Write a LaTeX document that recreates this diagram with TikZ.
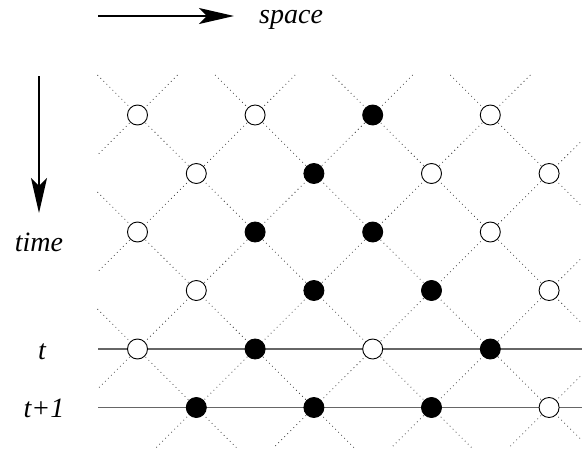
\documentclass[tikz,border=0pt]{standalone}
\usepackage{fontspec}
\setmainfont{Liberation Serif}
\usetikzlibrary{arrows.meta,calc}
\begin{document}
\begin{tikzpicture}[x=1pt,y=-1pt,
  grid/.style={line width=0.75pt,dash pattern=on 0.75pt off 3.5pt,black!85},
  hline/.style={line width=1.1pt,black!60},
  wn/.style={circle,draw=black,fill=white,line width=0.9pt,minimum size=20pt,inner sep=0pt},
  bn/.style={circle,draw=black,fill=black,line width=0.9pt,minimum size=20pt,inner sep=0pt},
  lab/.style={font=\fontsize{28}{32}\selectfont\itshape},
  axis/.style={line width=1.6pt,-{Stealth[length=35pt,width=16pt,inset=8pt]}}]
\useasboundingbox (0,0) rectangle (582,453);
\clip (0,0) rectangle (582,453);
% lattice positions
\foreach \i/\j/\c in {0/0/wn,2/0/wn,4/0/bn,6/0/wn,
                      1/1/wn,3/1/bn,5/1/wn,7/1/wn,
                      0/2/wn,2/2/bn,4/2/bn,6/2/wn,
                      1/3/wn,3/3/bn,5/3/bn,7/3/wn,
                      0/4/wn,2/4/bn,4/4/wn,6/4/bn,
                      1/5/bn,3/5/bn,5/5/bn,7/5/wn}
  {\coordinate (p\i\j) at ({137.5+58.8*\i},{115+58.5*\j});}
% dotted diagonals (down-right)
\foreach \a/\b in {p04/p15,p02/p35,p00/p55,p20/p75,p40/p73,p60/p71}
  {\draw[grid] ($(\a)+(-40,-40)$) -- ($(\b)+(40,40)$);}
% dotted diagonals (down-left)
\foreach \a/\b in {p00/p00,p20/p02,p40/p04,p60/p15,p71/p35,p73/p55,p75/p75}
  {\draw[grid] ($(\a)+(40,-40)$) -- ($(\b)+(-40,40)$);}
% horizontal lines
\coordinate (hl5) at (98,349);   \coordinate (hr5) at (582,349);
\coordinate (hl6) at (98,407.5); \coordinate (hr6) at (582,407.5);
\draw[hline] (hl5) -- (hr5);
\draw[hline] (hl6) -- (hr6);
% nodes
\foreach \i/\j/\c in {0/0/wn,2/0/wn,4/0/bn,6/0/wn,
                      1/1/wn,3/1/bn,5/1/wn,7/1/wn,
                      0/2/wn,2/2/bn,4/2/bn,6/2/wn,
                      1/3/wn,3/3/bn,5/3/bn,7/3/wn,
                      0/4/wn,2/4/bn,4/4/wn,6/4/bn,
                      1/5/bn,3/5/bn,5/5/bn,7/5/wn}
  {\node[\c] (n\i\j) at (p\i\j) {};}
% axes
\coordinate (sx0) at (98,16);  \coordinate (sx1) at (234,16);
\coordinate (ty0) at (39,76);  \coordinate (ty1) at (39,213);
\draw[axis] (sx0) -- (sx1);
\draw[axis] (ty0) -- (ty1);
\node[lab,anchor=base west,inner sep=0pt] (space) at (259,23) {space};
\node[lab,anchor=base,inner sep=0pt] (time) at (39,251) {time};
\node[lab,anchor=base,inner sep=0pt] (t) at (42,359) {t};
\node[lab,anchor=base,inner sep=0pt] (t1) at (44,417) {t+1};
\end{tikzpicture}
\end{document}
